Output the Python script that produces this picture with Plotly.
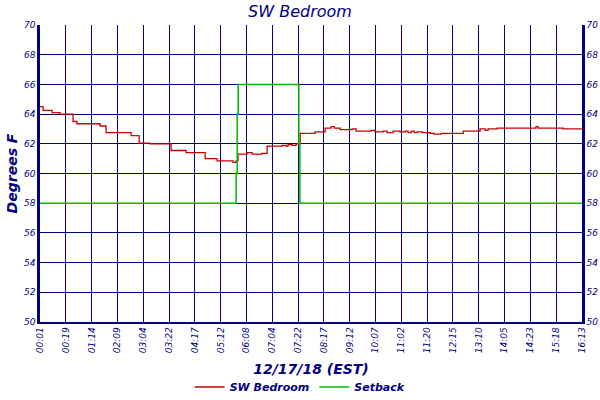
import plotly.graph_objects as go

NAVY = "#000080"

# x positions are in sample-grid units (one unit per labelled sample)
tick_labels = [
    "00:01", "00:19", "01:14", "02:09", "03:04", "03:22", "04:17", "05:12",
    "06:08", "07:04", "07:22", "08:17", "09:12", "10:07", "11:02", "11:20",
    "12:15", "13:10", "14:05", "14:23", "15:18", "16:13",
]

room_x = [
    0, 0.12, 0.47, 0.78, 1.28, 1.43, 2.33, 2.56, 3.53, 3.84, 4.26, 5.08,
    5.66, 6.40, 6.86, 7.48, 7.60, 7.67, 8.02, 8.22, 8.60, 8.80, 9.38, 9.53,
    9.61, 9.77, 9.92, 10.08, 10.66, 11.05, 11.28, 11.40, 11.63, 12.09, 12.25,
    12.83, 12.98, 13.29, 13.45, 13.68, 13.95, 14.15, 14.26, 14.38, 14.50,
    14.61, 14.81, 15.12, 15.27, 15.54, 16.40, 17.05, 17.25, 17.36, 17.71,
    19.19, 19.22, 19.30, 20.27, 21.0,
]
room_temp = [
    64.5, 64.25, 64.1, 64.0, 63.5, 63.35, 63.2, 62.75, 62.55, 62.05, 62.0, 61.55,
    61.4, 61.0, 60.85, 60.75, 60.85, 61.3, 61.4, 61.3, 61.35, 61.85, 61.9, 61.85,
    61.95, 61.9, 62.0, 62.7, 62.8, 63.05, 63.15, 63.05, 62.95, 63.0, 62.85,
    62.9, 62.8, 62.85, 62.75, 62.85, 62.8, 62.85, 62.75, 62.85, 62.75,
    62.8, 62.75, 62.7, 62.65, 62.7, 62.85, 63.0, 62.9, 63.0, 63.05,
    63.05, 63.15, 63.05, 63.0, 63.0,
]

setback_x = [0, 7.60, 7.64, 7.68, 10.03, 10.07, 21.0]
setback_temp = [58, 60, 64, 66, 62, 58, 58]

fig = go.Figure()
fig.add_trace(go.Scatter(
    x=room_x, y=room_temp, name="SW Bedroom", mode="lines",
    line=dict(color="#cc0000", width=1.3, shape="hv"),
))
fig.add_trace(go.Scatter(
    x=setback_x, y=setback_temp, name="Setback", mode="lines", yaxis="y2",
    line=dict(color="#00bb00", width=1.5, shape="hv"),
))

font_family = "DejaVu Sans"
yax = dict(
    range=[50, 70], dtick=2, showgrid=True, gridcolor=NAVY, gridwidth=1.3,
    showline=True, linecolor=NAVY, linewidth=2.5, zeroline=False, ticks="",
    automargin=False,
    tickfont=dict(size=9, color=NAVY, family=font_family, style="italic"),
)
fig.update_layout(
    width=600, height=400,
    margin=dict(l=40, r=18, t=25, b=78, autoexpand=False),
    paper_bgcolor="white", plot_bgcolor="white",
    title=dict(text="SW Bedroom", x=0.5, xanchor="center", y=0.985, yanchor="top",
               font=dict(size=16, color=NAVY, family=font_family, style="italic")),
    xaxis=dict(
        range=[0, 21], tickmode="array", tickvals=list(range(len(tick_labels))),
        ticktext=tick_labels, tickangle=-90, showgrid=True, gridcolor=NAVY,
        gridwidth=1.3, showline=True, linecolor=NAVY, linewidth=1.5, zeroline=False,
        ticks="", automargin=False,
        tickfont=dict(size=9, color=NAVY, family=font_family, style="italic"),
        title=dict(text="12/17/18 (EST)", standoff=12,
                   font=dict(size=14, color=NAVY, family=font_family,
                             style="italic", weight="bold")),
    ),
    yaxis=dict(**yax, title=dict(text="Degrees F", standoff=4,
                                 font=dict(size=14, color=NAVY, family=font_family,
                                           style="italic", weight="bold"))),
    yaxis2=dict(**yax, overlaying="y", side="right"),
    legend=dict(orientation="h", x=0.48, xanchor="center", y=-0.17, yanchor="top",
                itemwidth=30,
                font=dict(size=11, color=NAVY, family=font_family,
                          style="italic", weight="bold")),
)

# drop the page's default body margin so the figure sits at the window corner
fig.write_html("out.html", config={"displayModeBar": False},
               post_script="document.body.style.margin='0';")
